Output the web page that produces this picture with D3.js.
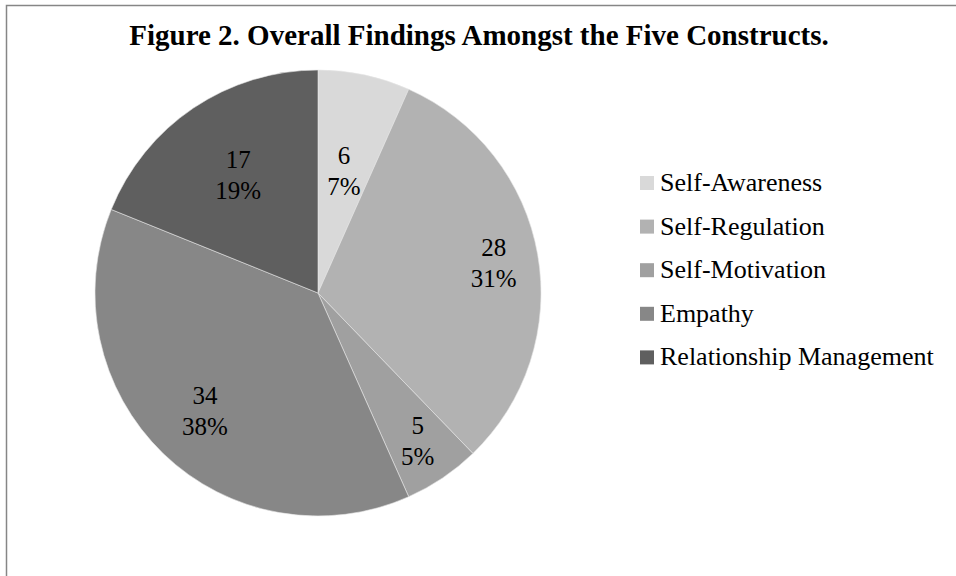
<!DOCTYPE html>
<html>
<head>
<meta charset="utf-8">
<script src="https://cdn.jsdelivr.net/npm/d3@7"></script>
<style>
  body { margin: 0; background: #fff; }
  svg { display: block; }
  text { font-family: "Liberation Serif", "Times New Roman", serif; fill: #000; }
</style>
</head>
<body>
<div id="chart"></div>
<script>
var categories = ['Self-Awareness', 'Self-Regulation', 'Self-Motivation', 'Empathy', 'Relationship Management'];
var values = [6, 28, 5, 34, 17];
var percentLabels = ['7%', '31%', '5%', '38%', '19%'];
var colors = ['#d9d9d9', '#b2b2b2', '#a0a0a0', '#878787', '#5f5f5f'];

var width = 956, height = 576;
var cx = 318, cy = 293, radius = 223;
// label distance from centre, as a share of the radius
var labelShare = [0.56, 0.80, 0.80, 0.73, 0.64];

var svg = d3.select('#chart').append('svg')
  .attr('width', width)
  .attr('height', height);

// outer frame (only top and left visible in the picture)
svg.append('path')
  .attr('d', 'M6.5,' + (height + 5) + 'V5.5H' + (width + 5))
  .attr('fill', 'none')
  .attr('stroke', '#868686')
  .attr('stroke-width', 1.5);

svg.append('text')
  .attr('x', 479)
  .attr('y', 45)
  .attr('text-anchor', 'middle')
  .style('font-size', '29px')
  .style('font-weight', 'bold')
  .text('Figure 2. Overall Findings Amongst the Five Constructs.');

var pie = d3.pie().sort(null).value(function (d) { return d; });
var arcs = pie(values);
var arc = d3.arc().innerRadius(0).outerRadius(radius);

var g = svg.append('g')
  .attr('transform', 'translate(' + cx + ',' + cy + ')');

g.selectAll('.slice')
  .data(arcs)
.enter()
  .append('path')
  .attr('class', 'slice')
  .attr('d', arc)
  .attr('fill', function (d, i) { return colors[i]; })
  .attr('stroke', '#e6e6e6')
  .attr('stroke-width', 0.6);

var labels = g.selectAll('.label')
  .data(arcs)
.enter()
  .append('text')
  .attr('class', 'label')
  .attr('text-anchor', 'middle')
  .style('font-size', '25px')
  .attr('transform', function (d, i) {
    var c = d3.arc().innerRadius(0).outerRadius(radius * labelShare[i] * 2).centroid(d);
    return 'translate(' + c[0] + ',' + c[1] + ')';
  });
labels.append('tspan').attr('x', 0).attr('dy', -6.5).text(function (d) { return d.data; });
labels.append('tspan').attr('x', 0).attr('dy', 31).text(function (d, i) { return percentLabels[i]; });

var legend = svg.append('g').attr('transform', 'translate(640,191)');
var rows = legend.selectAll('.row')
  .data(categories)
.enter()
  .append('g')
  .attr('class', 'row')
  .attr('transform', function (d, i) { return 'translate(0,' + (i * 43.6) + ')'; });
rows.append('rect')
  .attr('x', 0).attr('y', -15)
  .attr('width', 14).attr('height', 14)
  .attr('fill', function (d, i) { return colors[i]; });
rows.append('text')
  .attr('x', 20)
  .attr('y', 0)
  .style('font-size', '26px')
  .text(function (d) { return d; });
</script>
</body>
</html>
